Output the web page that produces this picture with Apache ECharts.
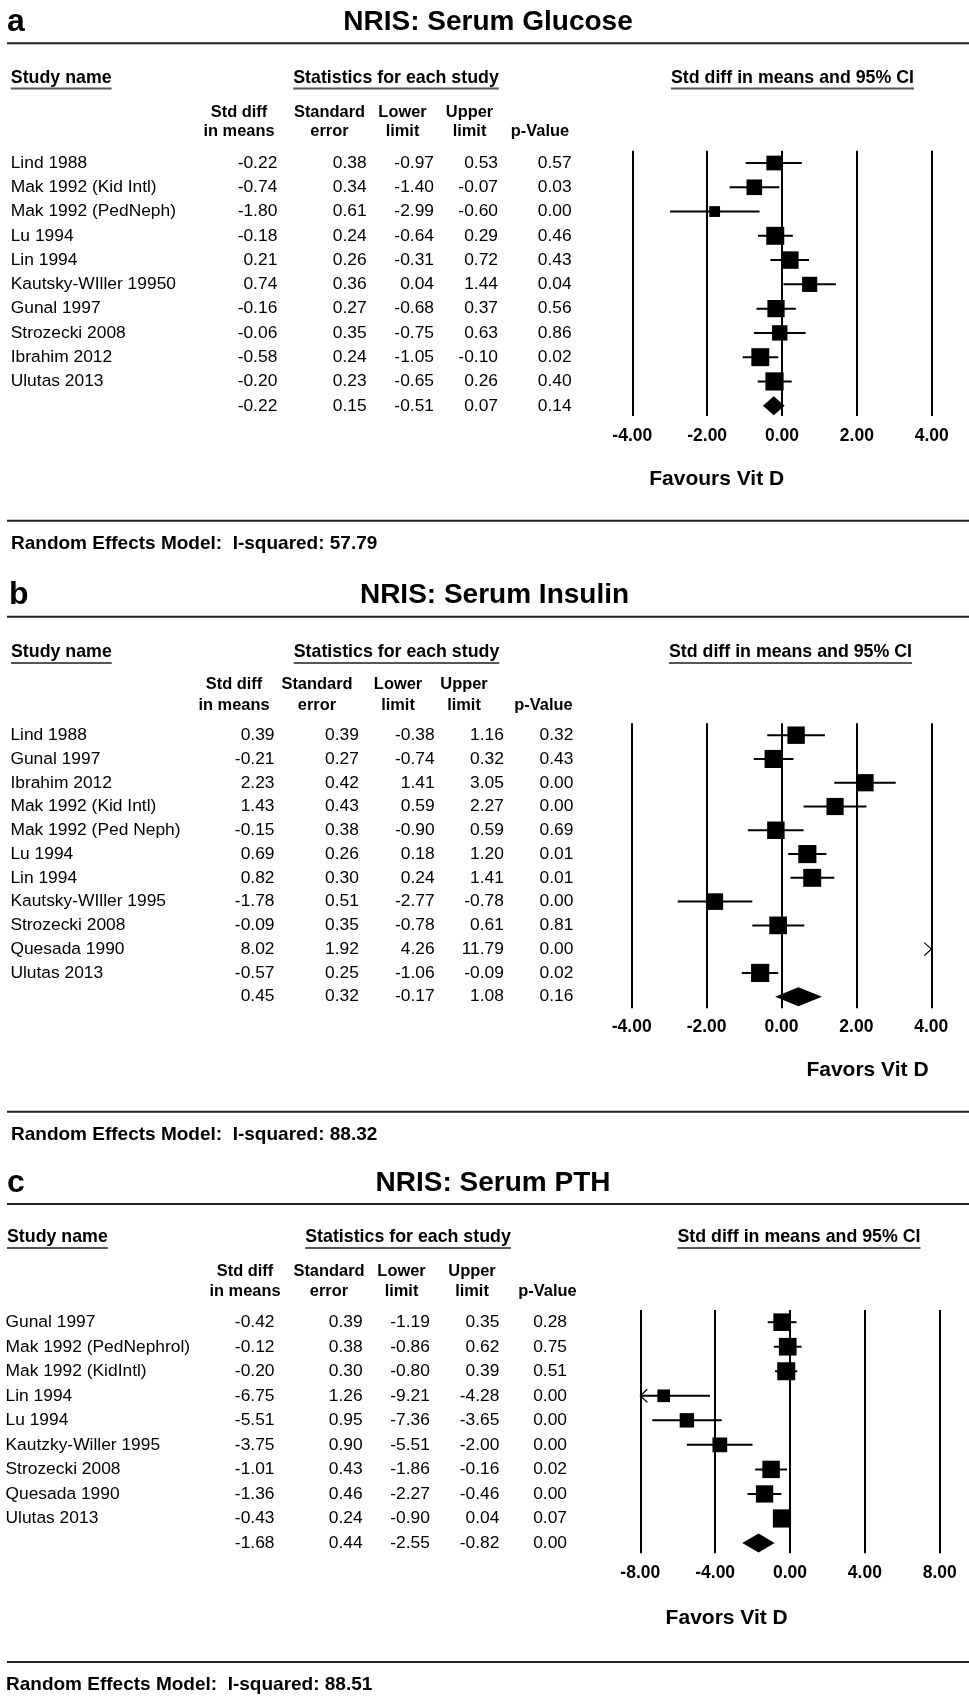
<!DOCTYPE html>
<html>
<head>
<meta charset="utf-8">
<script src="https://cdn.jsdelivr.net/npm/echarts@6/dist/echarts.min.js"></script>
<style>
html,body{margin:0;padding:0;background:#fff;}
#chart{width:969px;height:1696px;}
</style>
</head>
<body>
<div id="chart"></div>
<script>
// ---------------- DATA ----------------
const panelLetters = ['a', 'b', 'c'];
const panelTitles = ['NRIS: Serum Glucose', 'NRIS: Serum Insulin', 'NRIS: Serum PTH'];
const favourLabels = ['Favours Vit D', 'Favors Vit D', 'Favors Vit D'];
const iSquared = ['57.79', '88.32', '88.51'];
const sectionHeads = ['Study name', 'Statistics for each study', 'Std diff in means and 95% CI'];
const colHead1 = ['Std diff', 'Standard', 'Lower', 'Upper', ''];
const colHead2 = ['in means', 'error', 'limit', 'limit', 'p-Value'];

// Panel a: Serum Glucose
const aNames = ['Lind 1988', 'Mak 1992 (Kid Intl)', 'Mak 1992 (PedNeph)', 'Lu 1994', 'Lin 1994',
  'Kautsky-WIller 19950', 'Gunal 1997', 'Strozecki 2008', 'Ibrahim 2012', 'Ulutas 2013'];
const aSmd = [-0.22, -0.74, -1.80, -0.18, 0.21, 0.74, -0.16, -0.06, -0.58, -0.20];
const aSe = [0.38, 0.34, 0.61, 0.24, 0.26, 0.36, 0.27, 0.35, 0.24, 0.23];
const aLower = [-0.97, -1.40, -2.99, -0.64, -0.31, 0.04, -0.68, -0.75, -1.05, -0.65];
const aUpper = [0.53, -0.07, -0.60, 0.29, 0.72, 1.44, 0.37, 0.63, -0.10, 0.26];
const aP = [0.57, 0.03, 0.00, 0.46, 0.43, 0.04, 0.56, 0.86, 0.02, 0.40];
const aSummary = [-0.22, 0.15, -0.51, 0.07, 0.14];

// Panel b: Serum Insulin
const bNames = ['Lind 1988', 'Gunal 1997', 'Ibrahim 2012', 'Mak 1992 (Kid Intl)', 'Mak 1992 (Ped Neph)',
  'Lu 1994', 'Lin 1994', 'Kautsky-WIller 1995', 'Strozecki 2008', 'Quesada 1990', 'Ulutas 2013'];
const bSmd = [0.39, -0.21, 2.23, 1.43, -0.15, 0.69, 0.82, -1.78, -0.09, 8.02, -0.57];
const bSe = [0.39, 0.27, 0.42, 0.43, 0.38, 0.26, 0.30, 0.51, 0.35, 1.92, 0.25];
const bLower = [-0.38, -0.74, 1.41, 0.59, -0.90, 0.18, 0.24, -2.77, -0.78, 4.26, -1.06];
const bUpper = [1.16, 0.32, 3.05, 2.27, 0.59, 1.20, 1.41, -0.78, 0.61, 11.79, -0.09];
const bP = [0.32, 0.43, 0.00, 0.00, 0.69, 0.01, 0.01, 0.00, 0.81, 0.00, 0.02];
const bSummary = [0.45, 0.32, -0.17, 1.08, 0.16];

// Panel c: Serum PTH
const cNames = ['Gunal 1997', 'Mak 1992 (PedNephrol)', 'Mak 1992 (KidIntl)', 'Lin 1994', 'Lu 1994',
  'Kautzky-Willer 1995', 'Strozecki 2008', 'Quesada 1990', 'Ulutas 2013'];
const cSmd = [-0.42, -0.12, -0.20, -6.75, -5.51, -3.75, -1.01, -1.36, -0.43];
const cSe = [0.39, 0.38, 0.30, 1.26, 0.95, 0.90, 0.43, 0.46, 0.24];
const cLower = [-1.19, -0.86, -0.80, -9.21, -7.36, -5.51, -1.86, -2.27, -0.90];
const cUpper = [0.35, 0.62, 0.39, -4.28, -3.65, -2.00, -0.16, -0.46, 0.04];
const cP = [0.28, 0.75, 0.51, 0.00, 0.00, 0.00, 0.02, 0.00, 0.07];
const cSummary = [-1.68, 0.44, -2.55, -0.82, 0.00];

// axis ranges (value units)
const xRanges = [[-4, 4, 2], [-4, 4, 2], [-8, 8, 4]];

const DATA = [
  {names: aNames, smd: aSmd, se: aSe, lo: aLower, hi: aUpper, p: aP, sum: aSummary},
  {names: bNames, smd: bSmd, se: bSe, lo: bLower, hi: bUpper, p: bP, sum: bSummary},
  {names: cNames, smd: cSmd, se: cSe, lo: cLower, hi: cUpper, p: cP, sum: cSummary}
];

// ---------------- LAYOUT (pixels) ----------------
const LAYOUT = [
  {letterX: 7, titleX: 488, titleY: 22, ruleTop: 43.3, headY: 78, nameHeadX: 10.8, statsX: 396, ciX: 792.5,
   hdr1Y: 112, hdr2Y: 131.8, hdrX: [239, 329.5, 402.5, 469.5, 540], colR: [277.3, 366.7, 434, 498, 571.7], nameX: 10.7,
   grid: {left: 632.3, top: 150.7, width: 299.4, height: 265.3}, yMin: -0.507, yMax: 10.424, labelMargin: 11,
   favX: 716.7, favY: 479.3, ruleBot: 520.7, reX: 11, reY: 543.3},
  {letterX: 9, titleX: 494.5, titleY: 595, ruleTop: 616.7, headY: 652.5, nameHeadX: 11, statsX: 396.5, ciX: 790.5,
   hdr1Y: 684.6, hdr2Y: 705, hdrX: [234, 317, 398, 464, 543.5], colR: [274.5, 358.9, 434.7, 503.9, 573.4], nameX: 10.4,
   grid: {left: 631.7, top: 723.3, width: 299.6, height: 285}, yMin: -0.5, yMax: 11.488, labelMargin: 9.5,
   favX: 867.5, favY: 1070, ruleBot: 1111.7, reX: 11, reY: 1135},
  {letterX: 7, titleX: 493, titleY: 1183, ruleTop: 1204, headY: 1237.5, nameHeadX: 7, statsX: 408, ciX: 799,
   hdr1Y: 1271.7, hdr2Y: 1291.7, hdrX: [245, 329, 401.5, 472, 547.5], colR: [274.5, 362.6, 429.9, 499.4, 567], nameX: 5.5,
   grid: {left: 640.3, top: 1310, width: 299.4, height: 243.3}, yMin: -0.497, yMax: 9.42, labelMargin: 11,
   favX: 726.7, favY: 1618.3, ruleBot: 1662, reX: 6, reY: 1685}
];

const FAM = '"Liberation Sans", Arial, Helvetica, sans-serif';
const font = (size, bold) => (bold ? 'bold ' : '') + size + 'px ' + FAM;
const F_TITLE = font(28, true), F_LETTER = font(32, true), F_SEC = font(17.8, true), F_HDR = font(16.4, true);
const F_BODY = font(17.4, false), F_FAV = font(21, true), F_RE = font(19, true);
const MAX_BOX = 18.2;

const mctx = document.createElement('canvas').getContext('2d');
function textWidth(t, f) { mctx.font = f; return mctx.measureText(t).width; }

function txt(x, y, text, f, align) {
  align = align || 'left';
  return {type: 'text', x: x, y: y, silent: true,
    style: {text: text, font: f, fill: '#000', align: align, textAlign: align, verticalAlign: 'middle', textVerticalAlign: 'middle'}};
}
function ln(x1, y1, x2, y2, w, c) {
  return {type: 'line', silent: true, shape: {x1: x1, y1: y1, x2: x2, y2: y2}, style: {stroke: c, lineWidth: w}};
}

// DerSimonian-Laird random-effects weights (for box sizes)
function reWeights(y, se) {
  const w = se.map(s => 1 / (s * s));
  const sw = w.reduce((a, b) => a + b, 0);
  const ybar = w.reduce((a, wi, i) => a + wi * y[i], 0) / sw;
  const Q = w.reduce((a, wi, i) => a + wi * (y[i] - ybar) * (y[i] - ybar), 0);
  const C = sw - w.reduce((a, wi) => a + wi * wi, 0) / sw;
  const tau2 = Math.max(0, (Q - (y.length - 1)) / C);
  return se.map(s => 1 / (s * s + tau2));
}

function forestRenderer(p) {
  const xmin = xRanges[p][0], xmax = xRanges[p][1];
  return function (params, api) {
    const est = api.value(0), row = api.value(1), lo = api.value(2), hi = api.value(3), box = api.value(4);
    const y = api.coord([0, row])[1];
    const X = v => api.coord([v, row])[0];
    const kids = [];
    const a = Math.max(lo, xmin), b = Math.min(hi, xmax);
    if (b > a) kids.push({type: 'line', shape: {x1: X(a), y1: y, x2: X(b), y2: y}, style: {stroke: '#000', lineWidth: 2}});
    if (lo < xmin) {
      const x0 = X(xmin);
      kids.push({type: 'polyline', shape: {points: [[x0 + 7, y - 6.5], [x0, y], [x0 + 7, y + 6.5]]},
        style: {stroke: '#000', lineWidth: 1.2, fill: 'none'}});
    }
    if (hi > xmax) {
      const x0 = X(xmax);
      kids.push({type: 'polyline', shape: {points: [[x0 - 7, y - 6.5], [x0, y], [x0 - 7, y + 6.5]]},
        style: {stroke: '#000', lineWidth: 1.2, fill: 'none'}});
    }
    if (est >= xmin && est <= xmax) {
      kids.push({type: 'rect', shape: {x: X(est) - box / 2, y: y - box / 2, width: box, height: box}, style: {fill: '#000'}});
    }
    return {type: 'group', children: kids};
  };
}

function diamondRenderer(params, api) {
  const est = api.value(0), row = api.value(1), lo = api.value(2), hi = api.value(3);
  const y = api.coord([0, row])[1];
  const X = v => api.coord([v, row])[0];
  return {type: 'polygon', shape: {points: [[X(lo), y], [X(est), y - 9.5], [X(hi), y], [X(est), y + 9.5]]},
    style: {fill: '#000'}};
}

function tableRenderer(p) {
  const L = LAYOUT[p], D = DATA[p];
  return function (params, api) {
    const i = params.dataIndex;
    const y = api.coord([0, api.value(1)])[1];
    const isSum = i === D.names.length;
    const vals = isSum ? D.sum : [D.smd[i], D.se[i], D.lo[i], D.hi[i], D.p[i]];
    const kids = [];
    if (!isSum) kids.push(txt(L.nameX, y, D.names[i], F_BODY, 'left'));
    vals.forEach((v, k) => kids.push(txt(L.colR[k], y, v.toFixed(2), F_BODY, 'right')));
    return {type: 'group', children: kids};
  };
}

const grids = [], xAxes = [], yAxes = [], series = [], graphics = [];

DATA.forEach((D, p) => {
  const L = LAYOUT[p];
  const n = D.names.length;
  grids.push(Object.assign({containLabel: false, outerBoundsMode: 'none'}, L.grid));
  xAxes.push({
    type: 'value', gridIndex: p, min: xRanges[p][0], max: xRanges[p][1], interval: xRanges[p][2],
    axisLine: {show: false}, axisTick: {show: false},
    splitLine: {show: true, showMinLine: true, showMaxLine: true, lineStyle: {color: '#000', width: 2}},
    axisLabel: {show: true, showMinLabel: true, showMaxLabel: true, margin: L.labelMargin, color: '#000',
      fontFamily: FAM, fontSize: 17.5, fontWeight: 'bold', formatter: v => v.toFixed(2)}
  });
  yAxes.push({type: 'value', gridIndex: p, inverse: true, min: L.yMin, max: L.yMax, show: false,
    splitLine: {show: false}});

  const w = reWeights(D.smd, D.se);
  const wmax = Math.max.apply(null, w);
  const forestData = D.smd.map((v, i) => [v, i, D.lo[i], D.hi[i], MAX_BOX * Math.sqrt(w[i] / wmax)]);
  series.push({type: 'custom', xAxisIndex: p, yAxisIndex: p, silent: true, clip: false,
    renderItem: forestRenderer(p), data: forestData, z: 3});
  series.push({type: 'custom', xAxisIndex: p, yAxisIndex: p, silent: true, clip: false,
    renderItem: diamondRenderer, data: [[D.sum[0], n, D.sum[2], D.sum[3]]], z: 3});
  const rows = [];
  for (let i = 0; i <= n; i++) rows.push([0, i]);
  series.push({type: 'custom', xAxisIndex: p, yAxisIndex: p, silent: true, clip: false,
    renderItem: tableRenderer(p), data: rows, z: 4});

  // static texts
  graphics.push(txt(L.letterX, L.titleY, panelLetters[p], F_LETTER, 'left'));
  graphics.push(txt(L.titleX, L.titleY, panelTitles[p], F_TITLE, 'center'));
  graphics.push(ln(7, L.ruleTop, 969, L.ruleTop, 2, '#222'));

  // section headers with underline
  const w0 = textWidth(sectionHeads[0], F_SEC), w1 = textWidth(sectionHeads[1], F_SEC), w2 = textWidth(sectionHeads[2], F_SEC);
  graphics.push(txt(L.nameHeadX, L.headY, sectionHeads[0], F_SEC, 'left'));
  graphics.push(ln(L.nameHeadX, L.headY + 10.5, L.nameHeadX + w0, L.headY + 10.5, 2, '#555'));
  graphics.push(txt(L.statsX, L.headY, sectionHeads[1], F_SEC, 'center'));
  graphics.push(ln(L.statsX - w1 / 2, L.headY + 10.5, L.statsX + w1 / 2, L.headY + 10.5, 2, '#555'));
  graphics.push(txt(L.ciX, L.headY, sectionHeads[2], F_SEC, 'center'));
  graphics.push(ln(L.ciX - w2 / 2, L.headY + 10.5, L.ciX + w2 / 2, L.headY + 10.5, 2, '#555'));

  // column headers
  colHead1.forEach((h, k) => { if (h) graphics.push(txt(L.hdrX[k], L.hdr1Y, h, F_HDR, 'center')); });
  colHead2.forEach((h, k) => { if (h) graphics.push(txt(L.hdrX[k], L.hdr2Y, h, F_HDR, 'center')); });

  graphics.push(txt(L.favX, L.favY, favourLabels[p], F_FAV, 'center'));
  graphics.push(ln(7, L.ruleBot, 969, L.ruleBot, 2, '#222'));
  graphics.push(txt(L.reX, L.reY, 'Random Effects Model:  I-squared: ' + iSquared[p], F_RE, 'left'));
});

const chart = echarts.init(document.getElementById('chart'), null, {renderer: 'canvas', width: 969, height: 1696});
chart.setOption({
  backgroundColor: '#ffffff',
  animation: false,
  grid: grids,
  xAxis: xAxes,
  yAxis: yAxes,
  series: series,
  graphic: {elements: graphics}
});
</script>
</body>
</html>
